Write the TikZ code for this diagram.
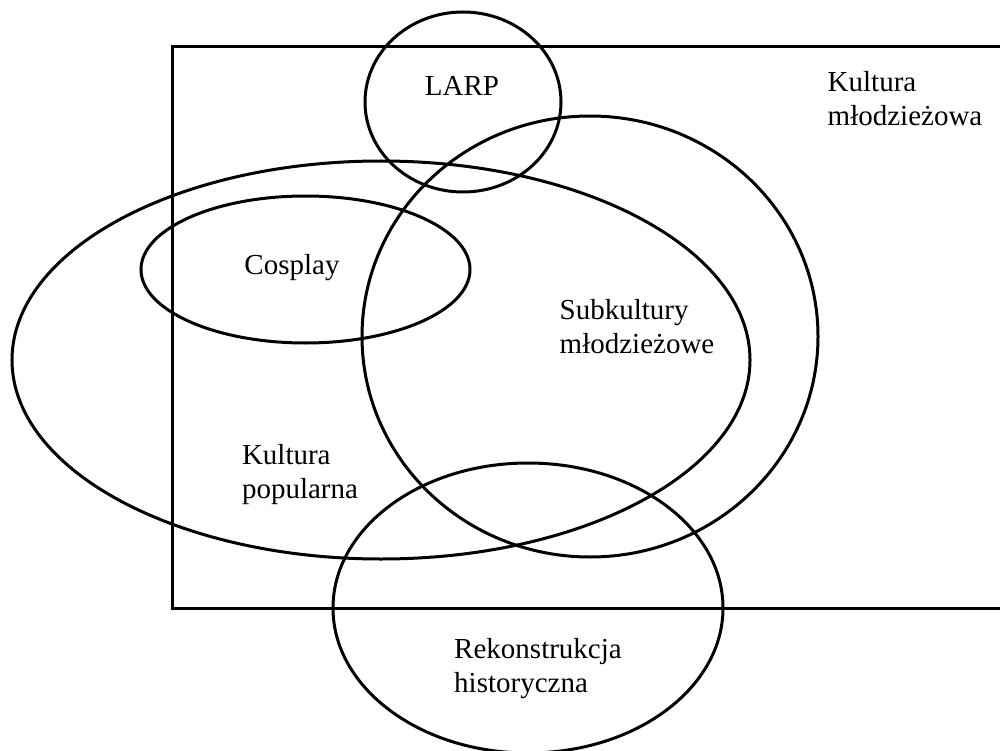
\documentclass[tikz,border=0pt]{standalone}
\usepackage{fontspec}
\setmainfont{Liberation Serif}

\tikzset{
  set/.style={line width=3pt},
  lbl/.style={inner sep=0pt, align=left, font=\fontsize{29}{34}\selectfont}
}

\begin{document}
\begin{tikzpicture}[x=1pt, y=-1pt]
\useasboundingbox (0,0) rectangle (1000,751);
\clip (0,0) rectangle (1000,751);
% Kultura mlodziezowa
\draw[set] (1020,47) -- (172,47) -- (172,608) -- (1020,608);
% sets
\draw[set] (381,360) ellipse [x radius=369pt, y radius=199pt];
\draw[set] (305.5,269.5) ellipse [x radius=164.5pt, y radius=73.5pt];
\draw[set] (590,336.5) ellipse [x radius=228pt, y radius=220.5pt];
\draw[set] (463,102) ellipse [x radius=98pt, y radius=90pt];
\draw[set] (528,608) ellipse [x radius=195pt, y radius=145pt];
% labels
\node[lbl] (larp) at (462,86) {LARP};
\node[lbl] (mlodz) at (905,99) {Kultura\\młodzieżowa};
\node[lbl] (cosplay) at (292,268) {Cosplay};
\node[lbl] (subk) at (637,327) {Subkultury\\młodzieżowe};
\node[lbl] (popular) at (300,475) {Kultura\\popularna};
\node[lbl] (rekon) at (538,669) {Rekonstrukcja\\historyczna};
\end{tikzpicture}
\end{document}
